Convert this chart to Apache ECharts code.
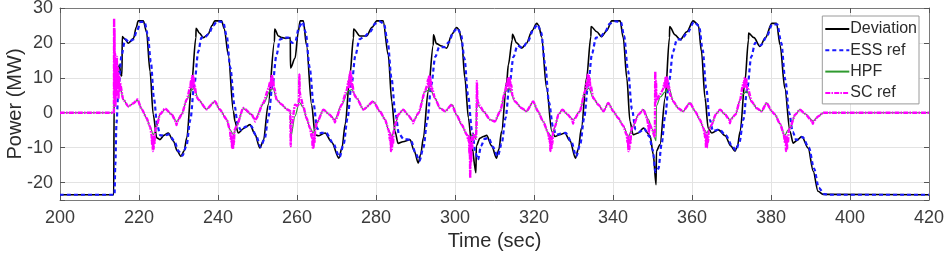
<!DOCTYPE html>
<html>
<head>
<meta charset="utf-8">
<script src="https://cdn.jsdelivr.net/npm/echarts@6/dist/echarts.min.js"></script>
<style>
html,body{margin:0;padding:0;background:#fff;}
#chart{width:946px;height:257px;}
</style>
</head>
<body>
<div id="chart"></div>
<script>
// Series names
var seriesNames = ['Deviation', 'ESS ref', 'HPF', 'SC ref'];

// Deviation [time (s), power (MW)]
var deviation = [
[200,-23.5],[213.6,-23.5],[213.7,3.2],[215.0,13.7],[215.5,10.5],[215.7,11],[215.75,21.8],[216.5,21.0],[217.3,19.9],[218.6,21.3],[219.3,24.5],[219.8,26.3],[221.1,26.3],[221.9,23.2],[222.8,11.8],[223.6,-0.5],[224.5,-7.2],[225.3,-7.7],[226.3,-6.5],[227.4,-5.8],[228.7,-8.1],[229.7,-11],[230.6,-12.5],[231.4,-11],[232.1,-7.2],[233.3,8],[234.4,21.5],
[234.45,24.2],[235.3,22.8],[236.3,21.5],[237.5,22.5],[238.5,25],[239.2,26.3],[240.9,26.3],[241.6,24],[242.6,16.6],[243.9,0.4],[244.3,-2.5],[245.1,-5.8],[246.5,-4.5],[248.1,-3.4],[249.3,-6],[250.6,-10.1],[251.5,-8],[252.7,2.3],[254.3,20.4],
[254.35,24],[255.3,22],[256.2,21.5],[257.2,21.3],[258.3,21.5],[258.35,12.8],[259.5,15.6],[260.3,23],[260.8,26.3],[261.6,26.3],[262.4,19.4],[263.7,2.3],[264.6,-6.3],[265.4,-6.6],[267.1,-5.8],[268.8,-8.5],[270.6,-13],[271.4,-10],[272.2,-3.3],[273.4,10.8],[274.3,21.5],
[274.35,24],[275.9,22],[277.6,22],[279.0,24.5],[280.2,26.3],[281.8,26.3],[283.1,16.6],[284.0,3.2],[284.8,-5.3],[285.6,-8.8],[286.8,-8.3],[288.6,-7.7],[289.7,-11],[290.7,-14.4],[291.3,-12],[292.0,-7.2],[293.2,6.1],[294.5,19.4],
[294.55,22.3],[295.3,19.8],[296.6,19.1],[297.9,18.5],[299.2,22.5],[300.4,24.4],[301.0,23.8],[301.7,20.5],[302.5,9.9],[303.4,-1.5],[304.2,-9.1],[305.3,-17.2],[305.4,-9.5],[306.3,-7.3],[307.2,-6.8],[308.0,-6.5],[309.3,-9.5],[310.5,-13],[311.1,-10.5],[311.8,-5.3],[313.1,9],[313.5,13.7],[314.5,20.9],
[314.55,22.5],[315.6,20],[316.9,18.5],[318.1,19.9],[319.5,23.5],[320.7,25.6],[321.2,25],[321.9,21.8],[323.2,7],[324.5,-5.3],[325.3,-6.8],[326.5,-6.3],[327.8,-5.8],[329.1,-8],[330.5,-13],[331.2,-10.5],[332.0,-4.4],[333.3,9.9],[334.4,21.8],
[334.45,24.7],[335.9,23.2],[337.1,21.8],[338.4,23.5],[339.7,26.3],[341.8,26.3],[342.6,21.5],[343.5,9.9],[344.3,-2.5],[345.1,-6.3],[346.4,-5.8],[347.7,-4.4],[349.4,-6.6],[350.2,-12],[350.9,-20.6],[351.0,-11],[351.9,-9.1],[353.2,4.2],[354.3,21.5],
[354.35,24.7],[355.7,22.3],[357.0,20.9],[358.7,23.2],[360.3,26.3],[361.6,25.2],[362.4,17.5],[363.3,4.2],[364.1,-4.4],[365.0,-5.8],[366.7,-4.9],[368.4,-6.6],[369.8,-9.5],[370.9,-11],[371.5,-9.5],[372.2,-5.3],[373.4,9],[374.3,20.9],
[374.35,22.8],[375.7,21.5],[377.2,19],[378.6,21.5],[380.2,25.6],[381.4,25.6],[382.3,19.4],[383.5,7],[384.8,-5.3],[385.6,-8.7],[386.5,-8.0],[387.8,-6.8],[389.4,-10.1],[390.7,-16.8],[391.9,-22.5],[393.2,-23.4],[420,-23.5]
];

// ESS ref [time (s), power (MW)]
var essRef = [
[200,-23.5],[213.8,-23.5],[214.0,-15],[214.3,-3],[214.8,7],[215.6,16.6],[216.5,21.0],[217.5,20.3],[218.6,21.0],[219.5,23.5],[220.4,26.0],[221.4,26.0],[222.2,22.5],[223.0,14.5],[223.8,4],[224.6,-3.5],[225.4,-6.5],[226.3,-6.5],[227.6,-6.2],[228.9,-8],[230.0,-11],[231.0,-12.3],[232.0,-9.5],[233.0,-2],[234.0,8],[235.0,17.5],
[235.8,21.5],[236.6,21.5],[237.6,22.5],[238.8,25],[239.8,26.2],[241.3,26.0],[242.2,22],[243.1,13],[244.2,2],[245.0,-3.5],[245.8,-5],[247.0,-4],[248.4,-3.8],[249.6,-6.5],[250.8,-9.8],[251.8,-7.5],[252.8,-1],[253.8,8],[254.8,16.5],
[255.7,21],[256.8,21.5],[257.8,21.5],[258.8,20],[259.6,20.5],[260.5,24.5],[261.4,26],[262.2,23],[263.2,13],[264.2,2.5],[265.1,-4.5],[266.0,-5.8],[267.4,-5.8],[269.0,-8.5],[270.8,-12.7],[271.8,-9],[272.8,-1.5],[273.8,8],[274.8,16.5],
[275.8,21],[277.0,21.8],[278.5,23.2],[279.8,25.5],[280.8,26.2],[282.0,25.5],[283.0,20],[283.9,10],[284.9,0],[285.8,-6],[287.0,-7.5],[288.8,-7.8],[290.0,-11.5],[291.0,-13.8],[292.0,-10],[293.0,-2],[294.0,8],[295.0,16],
[296.0,18.8],[297.3,18.8],[298.5,20.3],[299.6,23.2],[300.6,24.2],[301.5,22.5],[302.4,15.5],[303.3,5],[304.3,-5],[305.2,-11.5],[305.8,-13.5],[306.6,-9.5],[307.5,-7.5],[308.5,-7.2],[309.6,-9.8],[310.8,-12.5],[311.8,-9],[312.8,-1.5],[313.8,8],[314.8,16],
[315.8,19.2],[317.1,18.6],[318.5,20.5],[319.8,23.8],[320.9,25.3],[321.8,23],[322.8,14],[323.8,3],[324.8,-4],[325.6,-6.3],[326.8,-6],[328.0,-5.8],[329.4,-8.2],[330.7,-12.5],[331.7,-9],[332.7,-1.5],[333.7,8],[334.7,17],
[335.7,21.5],[336.8,21.8],[337.9,23],[339.2,25.5],[340.4,26.2],[342.0,26],[342.8,22],[343.8,12],[344.8,1],[345.7,-4.8],[346.7,-5.5],[347.9,-4.6],[349.2,-6.8],[350.0,-10.5],[350.8,-17],[351.5,-16],[352.3,-9],[353.2,-1],[354.2,9],[355.2,17.5],
[356.2,21],[357.3,21],[358.9,23],[360.5,26],[361.8,24.8],[362.7,18],[363.6,7],[364.5,-2],[365.3,-5.2],[366.9,-4.8],[368.6,-6.5],[370.0,-9.2],[371.1,-10.8],[372.0,-8.5],[373.0,-2],[374.0,7],[375.0,16],
[376.0,20],[377.4,19.3],[378.8,21.5],[380.3,25.3],[381.6,25.3],[382.6,20],[383.6,9.5],[384.6,0],[385.5,-5.5],[386.4,-7.8],[388.0,-7],[389.6,-10],[390.9,-16],[392.1,-21.5],[393.5,-23.3],[394.5,-23.5],[420,-23.5]
];

// HPF [time (s), power (MW)]
var hpf = [
[200,0],[213.7,0],[213.8,12],[214.5,10],[215.2,7.5],[216.0,3.8],[217.3,1.8],[218.6,2.7],[219.6,3.6],[220.7,1.0],[221.9,-1.5],[222.8,-4],[223.6,-6.3],[224.5,-3.8],[225.3,-0.5],[226.6,1.0],[228.3,-0.5],[229.5,-2.5],[230.8,-0.5],[232.1,3.8],[233.3,6.5],[234.0,7.1],[235.0,3.8],
[237.1,1.0],[239.2,3.2],[240.4,1.0],[242.2,-1.9],[243.0,-4.8],[243.9,-6.3],[244.8,-3.5],[246.4,1.2],[248.5,-0.5],[249.4,-1.9],[251.5,2.6],[253.2,6.3],[254.0,7.0],[254.8,3.8],[256.1,2.4],[257.4,1.0],[258.3,0.5],[258.4,-7],[259.5,-1],[260.6,3],[261.6,1.5],
[262.4,-1.5],[263.3,-4.4],[264.1,-5.8],[265.0,-3],[266.7,0.9],[268.2,-0.5],[269.6,-2],[271.3,2.3],[273.0,6.3],[273.9,6.6],[275.1,4.2],[276.8,0.9],[279.3,3.2],[281.0,0.4],[282.3,-2],[283.2,-5],[284.0,-6.8],[284.8,-4],[285.6,-0.6],[286.9,0.9],[288.2,-0.8],[289.4,-2.5],[290.8,0],
[292.4,6.1],[293.8,6.6],[294.9,4.2],[296.2,1.3],[297.5,0.4],[299.2,2.3],[300.4,-0.6],[301.7,-3.4],[303.0,-6.3],[303.8,-7],[304.6,-6.0],[305.3,-7.5],[305.45,3],[306.3,1.5],[307.2,0.4],[308.9,-2],[310.1,-2.5],[311.4,0.4],[312.7,6],[313.7,7],
[315.2,3.2],[316.9,1.3],[318.1,0.4],[319.8,3.2],[321.0,0.4],[322.3,-2.5],[323.6,-5.8],[324.5,-7],[325.3,-4],[326.2,-0.5],[327.2,0.9],[328.5,-0.5],[329.9,-2],[331.6,0.4],[332.9,6.1],[333.9,7.0],[335.0,4.2],[336.3,2.3],[337.6,0.4],[338.8,2.8],[340.1,0.4],
[341.3,-1.5],[342.6,-3.8],[343.9,-6.8],[345.1,-3.8],[346.4,-0.6],[347.7,0.9],[349.0,-2],[349.8,-4.5],[350.9,-8],[351.0,2],[352.0,4.5],[353.2,6],[354.2,7],[355.3,3.2],[356.5,1.3],[357.7,0.4],[359.5,2.8],[360.8,0.4],
[362.0,-2],[362.9,-4.4],[363.7,-5.8],[365.0,-3.4],[366.0,-0.5],[367.1,0.9],[368.4,-0.5],[369.6,-2],[371.0,-0.5],[372.2,3.7],[373.0,5.5],[373.9,6.1],[375.1,3.2],[376.4,1.3],[377.6,0.4],[378.9,2.8],[380.2,0.4],[381.0,-0.5],
[382.3,-3.2],[383.5,-6.5],[384.3,-5],[384.8,-4.4],[386.1,-0.6],[387.3,0.9],[388.6,-0.3],[390.7,-2.4],[392.0,-1],[393.2,0],[394.5,0],[420,0]
];

// SC ref [time (s), power (MW)]
var scRef = [
[200,0],[213.65,0],[213.7,27],[213.75,4],[213.8,24],[213.85,8],[213.95,17],[214.05,2],[214.15,15],[214.25,5],[214.4,16],[214.5,7],[214.65,13],[214.8,4],[214.95,11],[215.1,6],[215.2,8.5],[216.0,3.8],[217.3,1.8],[218.6,2.7],[219.6,3.8],[220.7,1.0],[221.9,-1.5],[222.8,-4],
[223.2,-6.5],[223.3,-9],[223.4,-7],[223.5,-11],[223.6,-7.5],[223.7,-10.5],[223.8,-6.5],[223.9,-9],[224.1,-5],[224.5,-3.8],[225.3,-0.5],[226.6,1.2],[228.3,-0.5],[229.3,-2.5],[229.5,-3.5],[229.7,-2.5],[230.8,-0.5],[232.1,3.8],
[233.0,7.5],[233.2,9.5],[233.3,7],[233.45,10.5],[233.55,7.5],[233.7,10.5],[233.8,8],[233.9,9.8],[234.05,6.5],[234.2,7.5],[234.4,5],[235.0,3.8],[237.1,1.0],[239.2,3.3],[240.4,1.0],[242.2,-1.9],[243.0,-4.8],
[243.3,-8],[243.4,-6],[243.55,-10],[243.65,-7],[243.8,-10.5],[243.9,-6.5],[244.0,-9],[244.2,-5],[244.8,-3.5],[246.4,1.4],[248.5,-0.5],[249.2,-1.8],[249.4,-2.5],[249.6,-1.8],[251.5,2.9],
[252.8,7],[253.2,9],[253.35,7],[253.5,10.5],[253.6,7.5],[253.75,10.5],[253.85,8],[254.0,9.5],[254.15,6.5],[254.3,7],[254.8,3.8],[256.1,2.4],[257.4,1.0],[258.3,0.5],[258.4,-9.6],[258.5,-5],[259.5,2.3],[260.3,1.8],[260.5,4],[260.6,11],[260.7,6],[260.9,4.5],[261.6,1.8],
[262.4,-1.5],[263.3,-4.4],[263.7,-7],[263.8,-5.5],[263.95,-10],[264.05,-7],[264.2,-10],[264.3,-6.5],[264.45,-8.5],[264.6,-5],[265.0,-3],[266.7,0.9],[268.2,-0.5],[269.4,-2],[269.6,-2.8],[269.8,-2],[271.3,2.3],
[272.6,6.5],[273.0,9],[273.15,7],[273.3,11],[273.4,8],[273.55,11.8],[273.65,8.5],[273.8,10.5],[273.95,7],[274.1,8],[274.3,5.5],[275.1,4.2],[276.8,0.9],[279.3,3.2],[281.0,0.4],[282.3,-2],[283.2,-5],
[283.55,-8],[283.65,-6],[283.8,-11],[283.9,-7.5],[284.05,-10.5],[284.15,-7],[284.3,-9],[284.5,-5],[285.0,-3],[285.6,-0.6],[286.9,0.9],[288.2,-0.8],[289.2,-2.2],[289.4,-3],[289.6,-2.2],[290.8,0],[292.4,6.1],
[293.0,8],[293.15,9.5],[293.25,7.5],[293.4,10.4],[293.5,8],[293.65,10.4],[293.75,7.5],[293.9,9.5],[294.05,6.5],[294.2,7],[294.9,4.2],[296.2,1.3],[297.5,0.4],[299.2,2.3],[300.4,-0.6],[301.7,-3.4],[303.0,-6.3],
[303.4,-8],[303.55,-6.5],[303.65,-12],[303.75,-8],[303.85,-18.7],[303.95,-9],[304.1,-14],[304.2,-7],[304.4,-10],[304.6,-6],[305.3,-7.5],[305.45,-4],[305.55,9],[305.65,4],[305.8,3],[306.3,2],[307.2,0.4],[308.9,-2],[310.1,-2.5],[311.4,0.4],[312.7,6.1],
[313.1,8.5],[313.25,7],[313.4,9.9],[313.5,7.5],[313.65,10.2],[313.75,7.5],[313.9,9.9],[314.05,7],[314.25,8],[314.5,5],[315.2,3.2],[316.9,1.3],[318.1,0.4],[319.8,3.2],[321.0,0.4],[322.3,-2.5],[323.6,-5.8],
[323.9,-8],[324.0,-6.5],[324.15,-11],[324.25,-7.5],[324.4,-10.5],[324.5,-7],[324.65,-9],[324.8,-5.5],[325.3,-4],[326.2,-0.5],[327.2,0.9],[328.5,-0.5],[329.7,-2],[329.9,-3.2],[330.1,-2],[331.6,0.4],[332.9,6.1],
[333.3,8.5],[333.45,7],[333.6,10.9],[333.7,8],[333.85,10.9],[333.95,8],[334.1,10],[334.25,7],[334.4,7.5],[335.0,4.2],[336.3,2.3],[337.6,0.4],[338.8,2.8],[340.1,0.4],[341.3,-1.5],[342.6,-3.8],
[343.5,-6.5],[343.65,-8.5],[343.75,-6.5],[343.9,-11],[344.0,-7.5],[344.15,-10.5],[344.25,-7],[344.4,-9],[344.6,-5],[345.1,-3.8],[346.4,-0.6],[347.7,0.9],[348.6,-1.5],[349.0,-4],[349.1,-6],[349.2,-3],[349.8,-4.5],
[350.6,-7],[350.7,11.8],[350.8,3],[350.9,9],[351.0,3.5],[351.8,5],[352.6,6.5],[353.0,8.5],[353.15,7],[353.3,10],[353.4,7.5],[353.55,10.4],[353.65,7.5],[353.8,9.8],[353.95,7],[354.2,7.5],[354.5,5],[355.3,3.2],[356.5,1.3],[357.7,0.4],[359.5,2.8],[360.8,0.4],
[362.0,-2],[362.9,-4.4],[363.3,-7],[363.4,-5.5],[363.55,-10.1],[363.65,-7],[363.8,-10],[363.9,-6.5],[364.05,-8.5],[364.25,-5],[365.0,-3.4],[366.0,-0.5],[367.1,0.9],[368.4,-0.5],[369.4,-2],[369.6,-3],[369.8,-2],[371.0,-0.5],[372.2,3.7],
[372.8,7.5],[373.0,8.5],[373.15,7],[373.3,9.9],[373.4,7.5],[373.55,9.9],[373.65,7.5],[373.8,9.5],[373.95,6.5],[374.2,6.8],[375.1,3.2],[376.4,1.3],[377.6,0.4],[378.9,2.8],[380.2,0.4],[381.0,-0.5],[382.3,-3.2],
[383.2,-6],[383.55,-8.5],[383.65,-6.5],[383.8,-11],[383.9,-7.5],[384.05,-10.5],[384.15,-7],[384.3,-8.5],[384.5,-5],[384.8,-4.4],[386.1,-0.6],[387.3,0.9],[388.6,-0.3],[390.4,-2.4],[390.6,-3.2],[390.8,-2.4],[392.0,-1],[393.2,0],[420,0]
];

// Axis ranges
var xRange = [200, 420], xStep = 20;
var yRange = [-25, 30], ySplits = 5;

var FONT = '"Liberation Sans", Arial, Helvetica, sans-serif';
var chart = echarts.init(document.getElementById('chart'), null, {renderer: 'canvas'});

function xAx(pos, main) {
  return {
    type: 'value', position: pos, min: xRange[0], max: xRange[1], interval: xStep,
    axisLine: {show: true, onZero: false, lineStyle: {color: '#7a7a7a', width: 1}},
    axisTick: {show: true, inside: true, length: 5, lineStyle: {color: '#555'}},
    axisLabel: {show: main, fontSize: 18, color: '#3c3c3c', fontFamily: FONT, margin: 9},
    splitLine: {show: main, lineStyle: {color: '#e3e3e3', width: 1}},
    name: main ? 'Time (sec)' : '', nameLocation: 'middle', nameGap: 31, nameMoveOverlap: false,
    nameTextStyle: {fontSize: 20, color: '#2b2b2b', fontFamily: FONT}
  };
}
function yAx(pos, main) {
  return {
    type: 'value', position: pos, min: yRange[0], max: yRange[1], splitNumber: ySplits,
    axisLine: {show: true, onZero: false, lineStyle: {color: '#7a7a7a', width: 1}},
    axisTick: {show: true, inside: true, length: 5, lineStyle: {color: '#555'}},
    axisLabel: {show: main, fontSize: 18, color: '#3c3c3c', fontFamily: FONT, margin: 7,
      formatter: function (v) { return (v % 10 !== 0) ? '' : String(v); }},
    splitLine: {show: main, lineStyle: {color: '#e3e3e3', width: 1}},
    name: main ? 'Power (MW)' : '', nameLocation: 'middle', nameGap: 35, nameRotate: 90, nameMoveOverlap: false,
    nameTextStyle: {fontSize: 20, color: '#2b2b2b', fontFamily: FONT}
  };
}

var option = {
  animation: false,
  backgroundColor: '#ffffff',
  grid: {left: 60, right: 17, top: 8, bottom: 57, containLabel: false, outerBoundsMode: 'none'},
  xAxis: [xAx('bottom', true), xAx('top', false)],
  yAxis: [yAx('left', true), yAx('right', false)],
  legend: {
    orient: 'vertical', right: 27, top: 16,
    data: seriesNames,
    itemWidth: 24, itemHeight: 16, itemGap: 5.3,
    padding: [5, 2, 3, 2],
    itemStyle: {opacity: 0},
    backgroundColor: '#ffffff', borderColor: '#9a9a9a', borderWidth: 1,
    textStyle: {fontSize: 16, color: '#2b2b2b', fontFamily: FONT, padding: [0, 0, 0, -4]}
  },
  series: [
    {name: seriesNames[0], type: 'line', data: deviation, symbol: 'none', smooth: 0.3, smoothMonotone: 'x',
     lineStyle: {color: '#000000', width: 1.6}, itemStyle: {color: '#000000'}, z: 2},
    {name: seriesNames[1], type: 'line', data: essRef, symbol: 'none', smooth: 0.3, smoothMonotone: 'x',
     lineStyle: {color: '#1a1aff', width: 2.2, type: [4, 3]}, itemStyle: {color: '#1a1aff'}, z: 3},
    {name: seriesNames[2], type: 'line', data: hpf, symbol: 'none', smooth: 0.3, smoothMonotone: 'x',
     lineStyle: {color: '#2f9a2f', width: 1.2}, itemStyle: {color: '#2f9a2f'}, z: 4},
    {name: seriesNames[3], type: 'line', data: scRef, symbol: 'none', smooth: 0.2, smoothMonotone: 'x',
     lineStyle: {color: '#ff00ff', width: 2.4, type: [5, 1.2, 1.5, 1.2]}, itemStyle: {color: '#ff00ff'}, z: 5}
  ]
};
chart.setOption(option);
</script>
</body>
</html>
